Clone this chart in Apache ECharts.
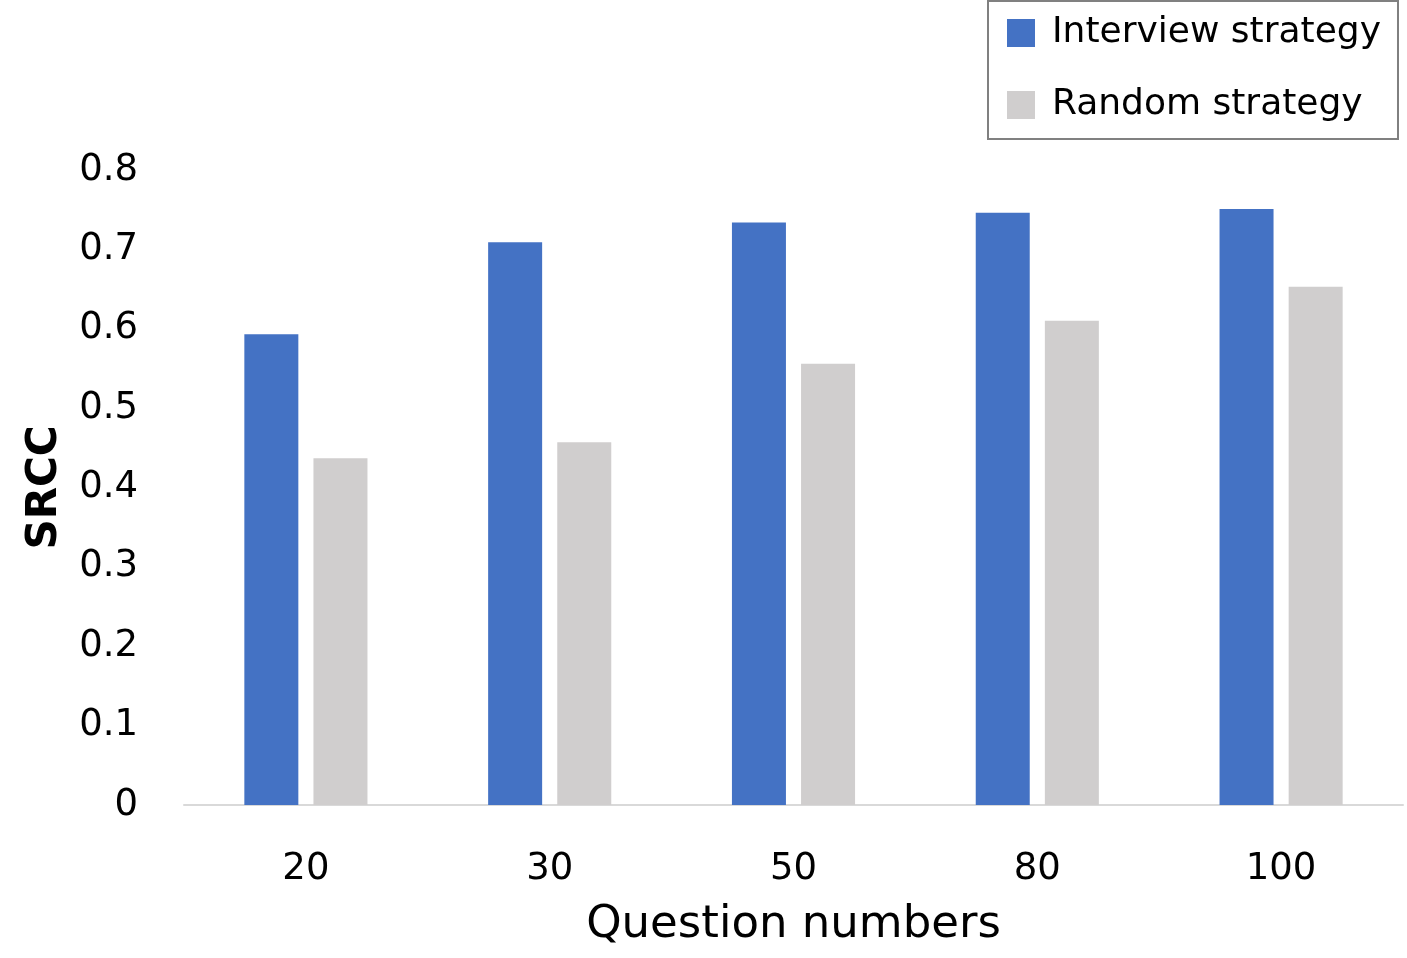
<!DOCTYPE html>
<html>
<head>
<meta charset="utf-8">
<script src="https://cdn.jsdelivr.net/npm/echarts@6/dist/echarts.min.js"></script>
<style>
  html, body { margin: 0; padding: 0; background: #fff; }
  #chart { width: 1407px; height: 958px; }
</style>
</head>
<body>
<div id="chart"></div>
<script>
// data
const questionNumbers = ['20', '30', '50', '80', '100'];
const interviewSrcc = [0.593, 0.709, 0.734, 0.746, 0.751];
const randomSrcc = [0.437, 0.457, 0.556, 0.610, 0.653];
const seriesNames = ['Interview strategy', 'Random strategy'];

const font = 'DejaVu Sans';
// square marker with some empty room on its right, so the text sits further off
const legendIcon = 'path://M0,0H28V28H0Z M40,0L40,0';

const chart = echarts.init(document.getElementById('chart'));
chart.setOption({
  animation: false,
  textStyle: { fontFamily: font, color: '#000' },
  grid: { left: 184, right: 4, top: 170, bottom: 153 },
  legend: {
    orient: 'vertical',
    left: 988,
    top: 1,
    padding: [14, 17, 16, 19],
    itemWidth: 40,
    itemHeight: 28,
    itemGap: 36,
    borderColor: '#808080',
    borderWidth: 2,
    icon: legendIcon,
    textStyle: { fontFamily: font, fontSize: 36, color: '#000' },
    data: seriesNames
  },
  xAxis: {
    type: 'category',
    data: questionNumbers,
    name: 'Question numbers',
    nameLocation: 'middle',
    nameGap: 98,
    nameTextStyle: { fontFamily: font, fontSize: 45, color: '#000' },
    axisLine: { lineStyle: { color: '#d9d9d9', width: 2 } },
    axisTick: { show: false },
    axisLabel: { fontFamily: font, fontSize: 37, color: '#000', margin: 46 }
  },
  yAxis: {
    type: 'value',
    min: 0,
    max: 0.8,
    interval: 0.1,
    name: 'SRCC',
    nameLocation: 'middle',
    nameGap: 118,
    nameRotate: 90,
    nameTextStyle: { fontFamily: font, fontSize: 42, fontWeight: 'bold', color: '#000' },
    axisLine: { show: false },
    axisTick: { show: false },
    splitLine: { show: false },
    axisLabel: { fontFamily: font, fontSize: 37, color: '#000', margin: 46 }
  },
  series: [
    {
      name: seriesNames[0],
      type: 'bar',
      data: interviewSrcc,
      barWidth: 54,
      barGap: '28%',
      itemStyle: { color: '#4472c4' }
    },
    {
      name: seriesNames[1],
      type: 'bar',
      data: randomSrcc,
      barWidth: 54,
      itemStyle: { color: '#d0cece' }
    }
  ]
});
</script>
</body>
</html>
